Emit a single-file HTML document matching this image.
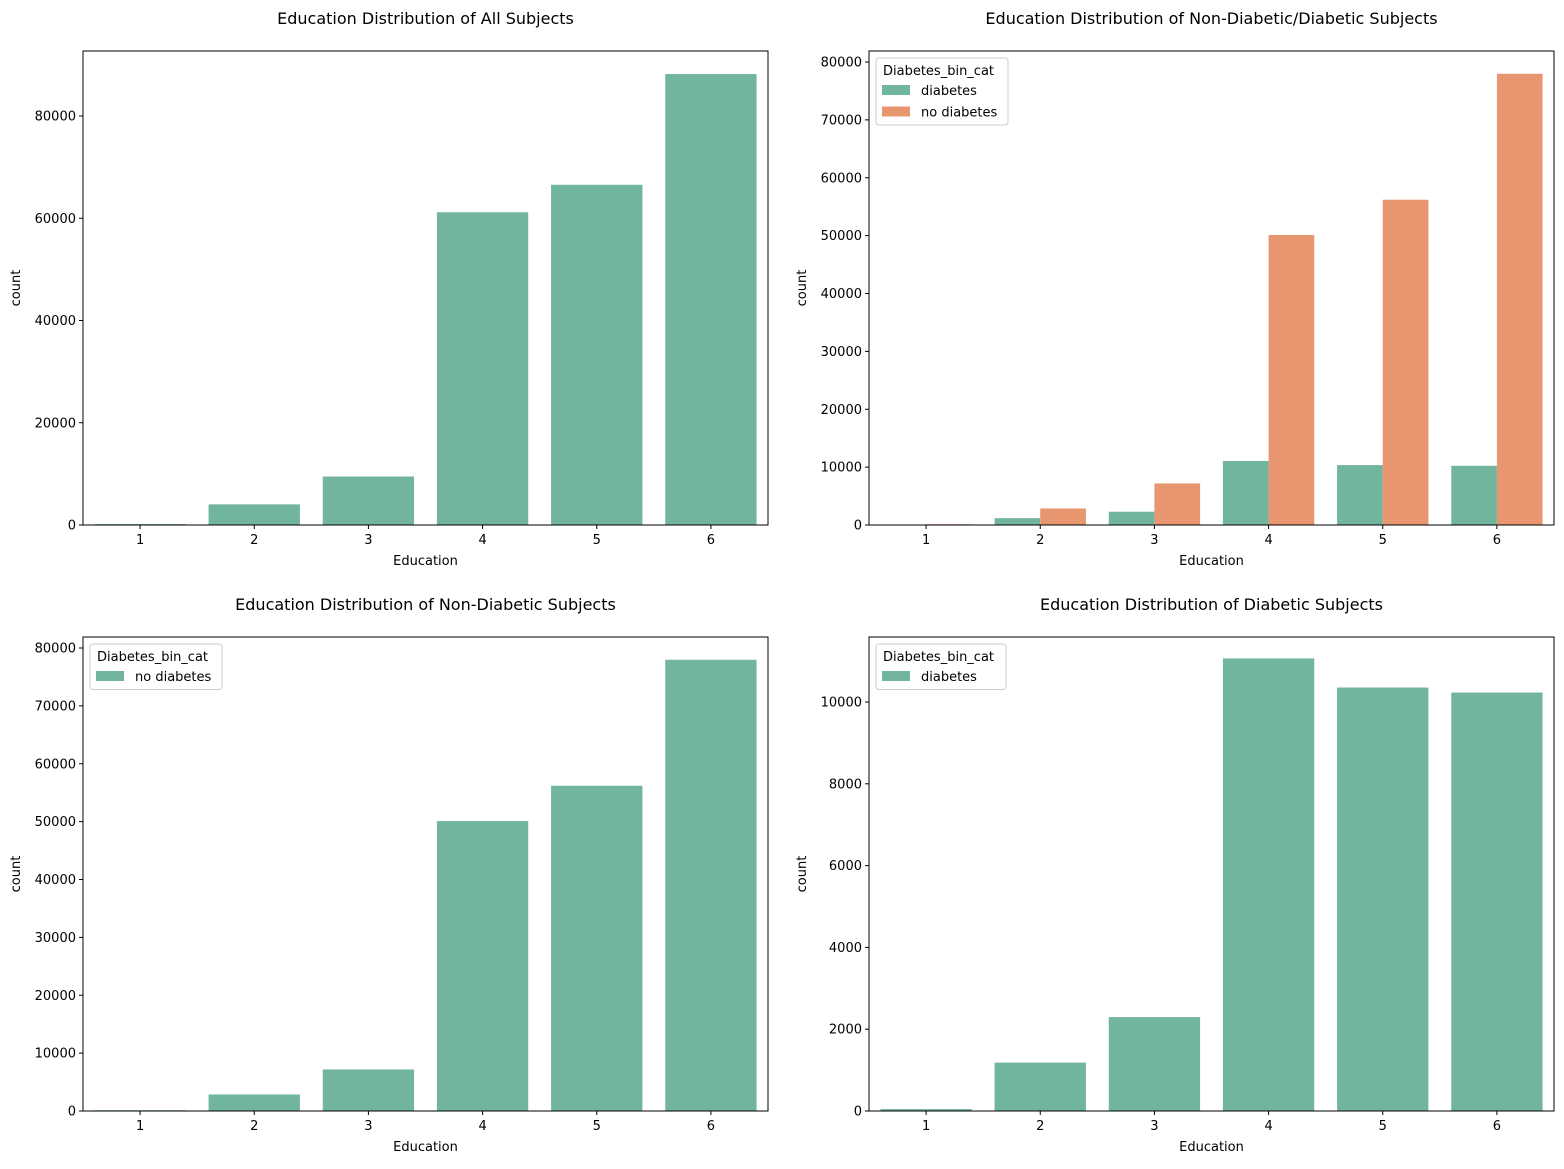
<!DOCTYPE html>
<html><head><meta charset="utf-8"><style>
body{margin:0;background:#fff;}
svg{font-family:"DejaVu Sans","Liberation Sans",sans-serif;}
</style></head><body>
<svg id="fig" width="1564" height="1164" xmlns="http://www.w3.org/2000/svg"></svg>
<script>
const categories = ["1","2","3","4","5","6"];
const allCounts = [174, 4040, 9480, 61170, 66550, 88200];
const diabetesCounts = [47, 1183, 2296, 11066, 10354, 10230];
const noDiabetesCounts = [127, 2860, 7182, 50100, 56200, 77970];
const ticksA = [0,20000,40000,60000,80000];
const ticksB = [0,10000,20000,30000,40000,50000,60000,70000,80000];
const ticksD = [0,2000,4000,6000,8000,10000];
const GREEN="#72b59f", ORANGE="#e8966f";
const NS="http://www.w3.org/2000/svg";
const fig=document.getElementById('fig');
function mk(tag,attrs,parent,text){const e=document.createElementNS(NS,tag);for(const k in attrs)e.setAttribute(k,attrs[k]);if(text!==undefined)e.textContent=text;(parent||fig).appendChild(e);return e;}

function panel(name,x0,x1,y0,y1,ymax,ticks,series,title,legend){
  const g=mk('g',{});
  
  
  const yS=v=>y1-(v/ymax)*(y1-y0);
  const step=(x1-x0)/categories.length;
  const nS=series.length, bw=step*0.8/nS;
  series.forEach((s,si)=>{
    s.values.forEach((v,i)=>{
      const x=x0+step*i+step*0.1+si*bw;
      const r=mk('rect',{x:x,y:yS(v),width:bw,height:y1-yS(v),fill:s.color},g);
      
      
    });
  });
  mk('rect',{x:x0,y:y0,width:x1-x0,height:y1-y0,fill:'none',stroke:'#000','stroke-width':1},g);
  ticks.forEach(t=>{
    const y=yS(t);
    mk('line',{x1:x0-4,x2:x0,y1:y,y2:y,stroke:'#000'},g);
    const tx=mk('text',{x:x0-7,y:y+4.5,'font-size':13,'text-anchor':'end'},g,String(t));
    
    
  });
  categories.forEach((c,i)=>{
    const x=x0+step*(i+0.5);
    mk('line',{x1:x,x2:x,y1:y1,y2:y1+4,stroke:'#000'},g);
    const tx=mk('text',{x:x,y:y1+19,'font-size':13,'text-anchor':'middle'},g,c);
    
    
  });
  const xt=mk('text',{x:(x0+x1)/2,y:y1+40,'font-size':13,'text-anchor':'middle'},g,'Education');
  
  
  const yt=mk('text',{x:0,y:0,'font-size':13,'text-anchor':'middle',transform:`translate(${x0-63},${(y0+y1)/2}) rotate(-90)`},g,'count');
  
  
  const tt=mk('text',{x:(x0+x1)/2,y:y0-27,'font-size':16,'text-anchor':'middle'},g,title);
  
  
  if(legend){
    const lg=mk('g',{},g);
    
    
    const lx=x0+7, ly=y0+7, h=24+legend.length*21.5;
    mk('rect',{x:lx,y:ly,width:legend.w,height:h,rx:3,fill:'#fff','fill-opacity':0.8,stroke:'#ccc'},lg);
    mk('text',{x:lx+7,y:ly+17,'font-size':13},lg,'Diabetes_bin_cat');
    legend.forEach((e,i)=>{
      const yy=ly+27+i*21.5;
      mk('rect',{x:lx+6,y:yy,width:28,height:10,fill:e.color},lg);
      const t=mk('text',{x:lx+45,y:yy+10,'font-size':13},lg,e.label);
      
      
    });
  }
}
panel('chart-all-subjects',83,768,51,525,80000*(525-51)/409,ticksA,[{key:'all',values:allCounts,color:GREEN}],'Education Distribution of All Subjects',null);
panel('chart-by-diabetes',869,1554,51,525,80000*(525-51)/463,ticksB,[{key:'diabetes',values:diabetesCounts,color:GREEN},{key:'no-diabetes',values:noDiabetesCounts,color:ORANGE}],'Education Distribution of Non-Diabetic/Diabetic Subjects',Object.assign([{label:'diabetes',color:GREEN},{label:'no diabetes',color:ORANGE}],{w:132}));
panel('chart-non-diabetic',83,768,637,1111,80000*(1111-637)/463,ticksB,[{key:'no-diabetes',values:noDiabetesCounts,color:GREEN}],'Education Distribution of Non-Diabetic Subjects',Object.assign([{label:'no diabetes',color:GREEN}],{w:132}));
panel('chart-diabetic',869,1554,637,1111,10000*(1111-637)/409,ticksD,[{key:'diabetes',values:diabetesCounts,color:GREEN}],'Education Distribution of Diabetic Subjects',Object.assign([{label:'diabetes',color:GREEN}],{w:130}));
</script>
</body></html>
